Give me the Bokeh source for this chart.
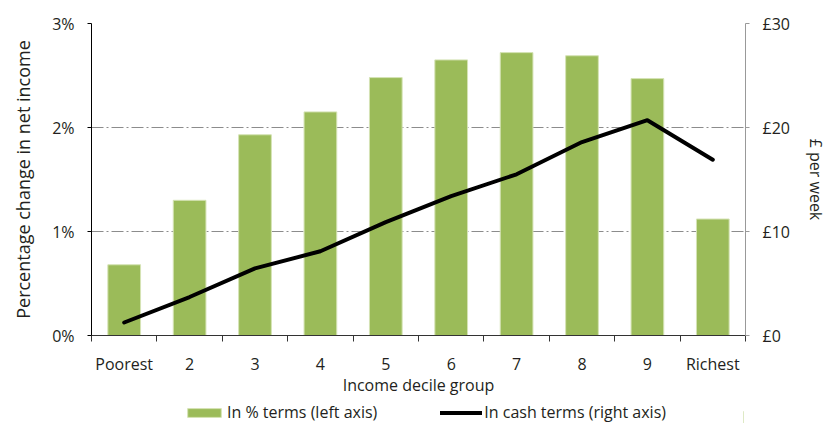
from bokeh.plotting import figure
from bokeh.layouts import column
from bokeh.models import (Range1d, LinearAxis, FixedTicker,
                          PrintfTickFormatter, Legend, LegendItem, ColumnDataSource, Grid)
from bokeh.embed import file_html
from bokeh.resources import INLINE

categories = ["Poorest", "2", "3", "4", "5", "6", "7", "8", "9", "Richest"]
pct_change = [0.68, 1.30, 1.93, 2.15, 2.48, 2.65, 2.72, 2.69, 2.47, 1.12]
cash_change = [1.25, 3.7, 6.45, 8.1, 10.9, 13.4, 15.5, 18.6, 20.7, 16.9]
left_ticks = [0, 1, 2, 3]
right_ticks = [0, 10, 20, 30]
series_names = ["In % terms (left axis)", "In cash terms (right axis)"]

FONT = "Open Sans"
TXT = "#231f20"
FS = "16px"
BAR_FILL = "#9bbb59"
BAR_LINE = "#d5e3b5"

n = len(categories)
xpos = list(range(n))
src = ColumnDataSource(dict(x=xpos, pct=pct_change, cash=cash_change))

p = figure(x_range=Range1d(-0.5, n - 0.5), y_range=Range1d(0, 3),
           frame_width=654, frame_height=312, width=827, height=399,
           min_border_left=91, min_border_right=82, min_border_top=23, min_border_bottom=64,
           x_axis_location=None, y_axis_location=None,
           output_backend="svg", toolbar_location=None)
p.outline_line_color = None
p.background_fill_color = "white"
p.border_fill_color = "white"

p.extra_y_ranges = {"cash": Range1d(0, 30)}

p.xgrid.visible = False
p.ygrid.visible = False

yl = LinearAxis(ticker=FixedTicker(ticks=left_ticks), formatter=PrintfTickFormatter(format="%d%%"),
                axis_label="Percentage change in net income")
yr = LinearAxis(y_range_name="cash", ticker=FixedTicker(ticks=right_ticks),
                formatter=PrintfTickFormatter(format="£%d"), axis_label="£ per week")
for ax in (yl, yr):
    ax.major_label_text_font = FONT
    ax.major_label_text_font_size = FS
    ax.major_label_text_color = TXT
    ax.axis_label_text_font = FONT
    ax.axis_label_text_font_size = FS
    ax.axis_label_text_font_style = "normal"
    ax.axis_label_text_color = TXT
    ax.minor_tick_line_color = None
    ax.major_tick_in = 0
    ax.major_tick_out = 4
    ax.major_label_standoff = 13
yl.axis_line_color = "black"
yl.major_tick_line_color = "black"
yl.axis_label_text_font_size = "18px"
yl.axis_label_standoff = 14
yr.axis_line_color = "#999999"
yr.major_tick_line_color = "#999999"
yr.axis_label_standoff = 12
p.add_layout(yl, "left")
p.add_layout(yr, "right")

# tick marks at category boundaries
xt = LinearAxis(ticker=FixedTicker(ticks=[i - 0.5 for i in range(n + 1)]))
xt.major_label_text_font_size = "0px"
xt.major_label_text_alpha = 0
xt.major_label_standoff = 0
xt.major_tick_in = 0
xt.major_tick_out = 6
xt.minor_tick_line_color = None
xt.axis_line_color = "#333333"
xt.major_tick_line_color = "#333333"
p.add_layout(xt, "below")

# category labels at centres
xc = LinearAxis(ticker=FixedTicker(ticks=xpos), axis_label="Income decile group",
                major_label_overrides={i: c for i, c in zip(xpos, categories)})
xc.axis_line_color = None
xc.major_tick_line_color = None
xc.minor_tick_line_color = None
xc.major_tick_out = 0
xc.major_tick_in = 0
xc.major_label_standoff = 11
xc.major_label_text_font = FONT
xc.major_label_text_font_size = FS
xc.major_label_text_color = TXT
xc.axis_label_text_font = FONT
xc.axis_label_text_font_size = FS
xc.axis_label_text_font_style = "normal"
xc.axis_label_text_color = TXT
xc.axis_label_standoff = -4
p.add_layout(xc, "below")

g = Grid(dimension=1, ticker=FixedTicker(ticks=left_ticks[1:]))
g.grid_line_color = "#8c8c8c"
g.grid_line_dash = "12 3 2 3"
g.grid_line_width = 1
p.add_layout(g)

p.vbar(x="x", top="pct", width=0.5, source=src, fill_color=BAR_FILL,
       line_color=BAR_LINE, line_width=1)
p.line(x="x", y="cash", source=src, y_range_name="cash", line_color="black",
       line_width=4, line_join="round", line_cap="round")

# legend strip below the chart (proxy glyphs lie outside the strip's visible range)
lp = figure(width=827, height=24, x_range=Range1d(0, 1), y_range=Range1d(0, 1),
            min_border=0, x_axis_location=None, y_axis_location=None,
            output_backend="svg", toolbar_location=None)
lp.xgrid.visible = False
lp.ygrid.visible = False
lp.outline_line_color = None
lp.background_fill_color = "white"
lp.border_fill_color = "white"
lb = lp.vbar(x=[5], top=[0.5], width=0.5, fill_color=BAR_FILL, line_color=BAR_LINE, line_width=1)
ll = lp.line(x=[5, 6], y=[0.5, 0.5], line_color="black", line_width=4, line_cap="round")

legend = Legend(items=[LegendItem(label=series_names[0], renderers=[lb]),
                       LegendItem(label=series_names[1], renderers=[ll])],
                orientation="horizontal", location=(92, 0))
legend.label_text_font = FONT
legend.label_text_font_size = FS
legend.label_text_color = TXT
legend.glyph_width = 42
legend.glyph_height = 11
legend.label_height = 16
legend.label_standoff = 2
legend.spacing = 63
legend.padding = 0
legend.margin = 0
legend.border_line_color = None
legend.background_fill_alpha = 0
lp.add_layout(legend)

layout = column(p, lp, spacing=0)
open("out.html", "w").write(file_html(layout, INLINE))
